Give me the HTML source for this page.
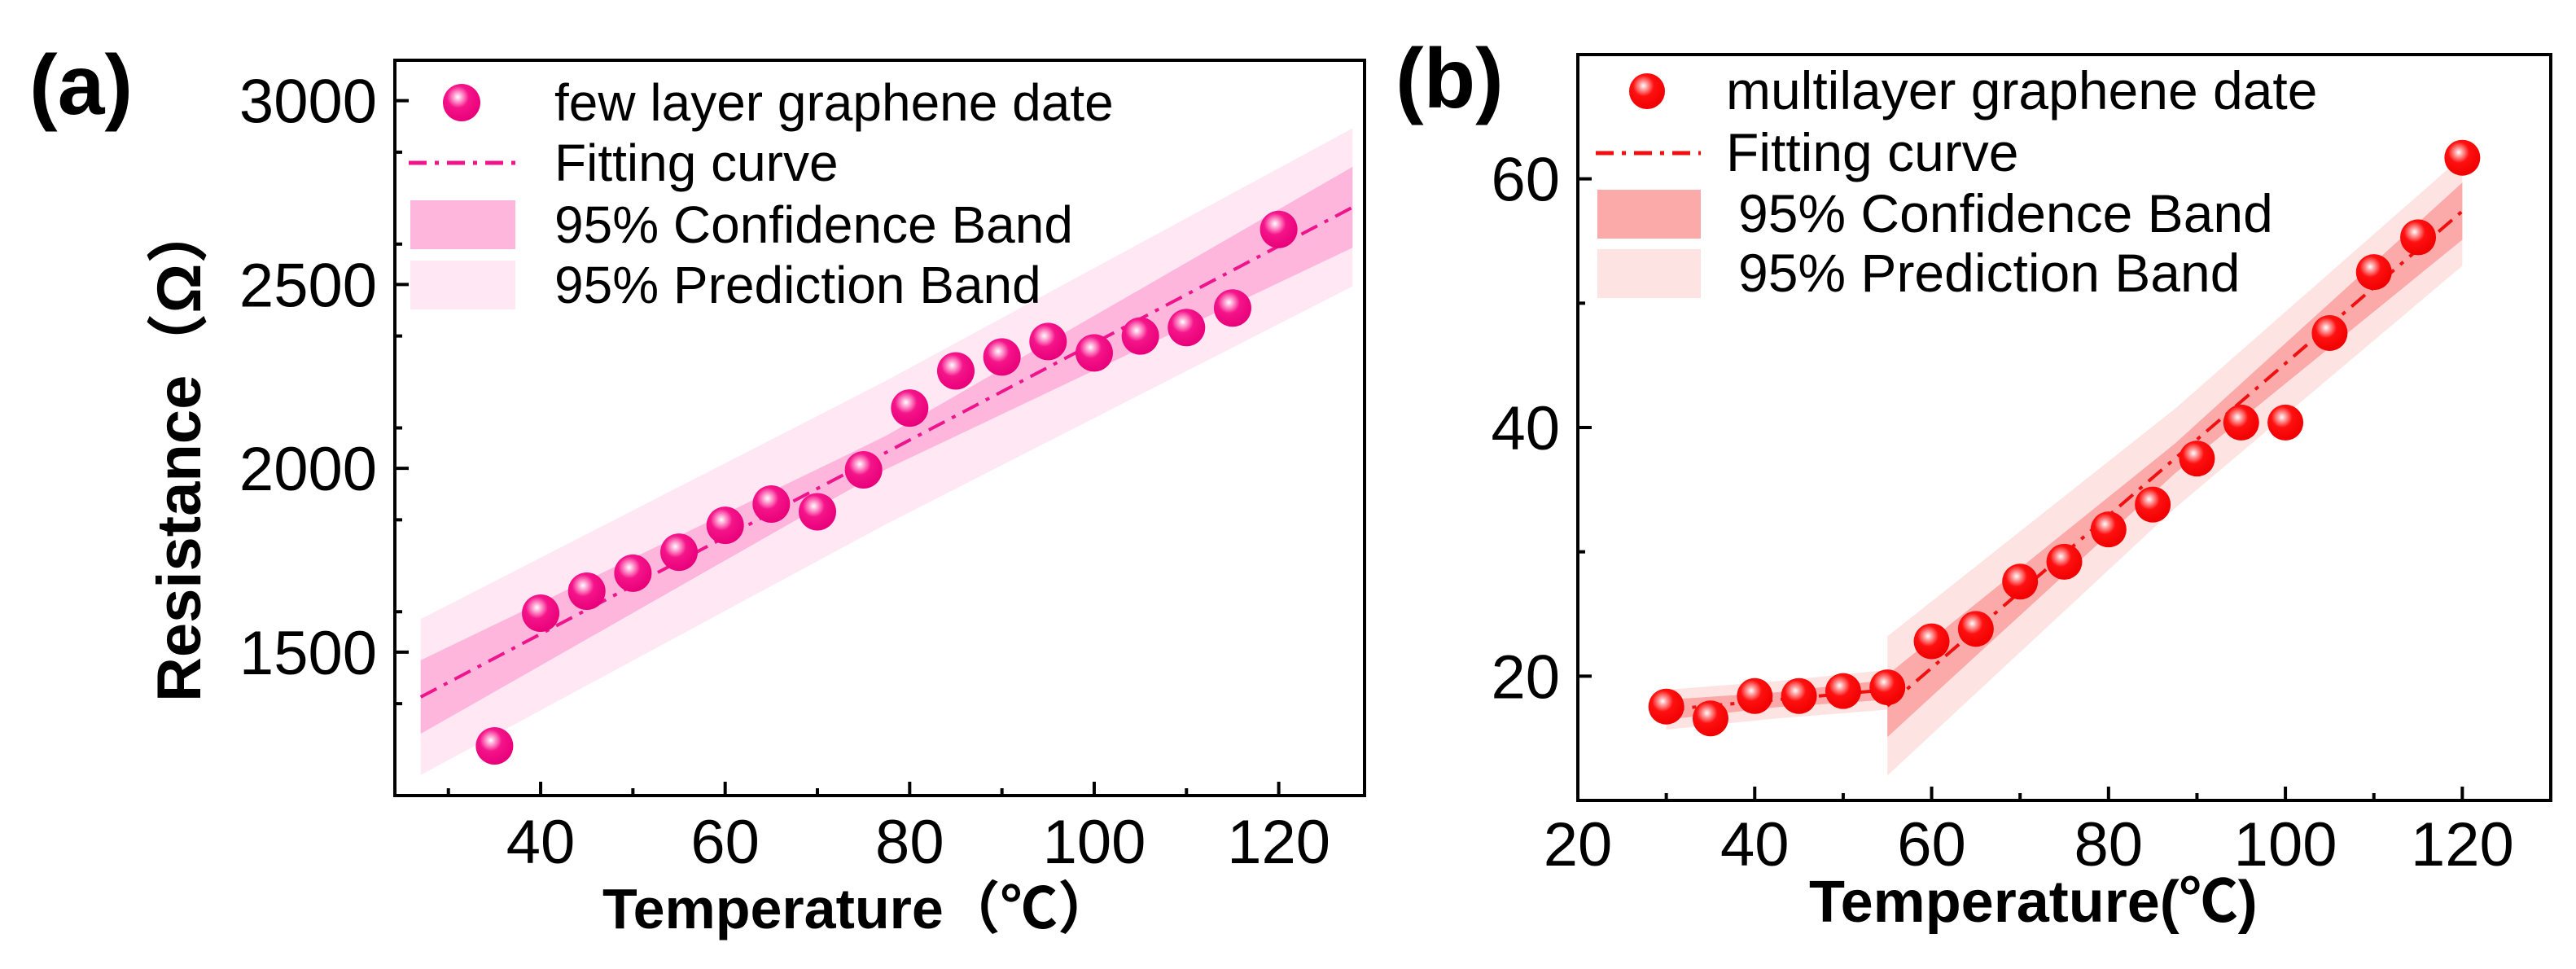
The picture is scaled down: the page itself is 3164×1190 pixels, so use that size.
<!DOCTYPE html>
<html><head><meta charset="utf-8"><style>
html,body{margin:0;padding:0;background:#fff;}
svg{display:block;font-family:"Liberation Sans","Noto Sans CJK SC",sans-serif;}
</style></head><body>
<svg id="fig" width="3164" height="1190" viewBox="0 0 3164 1190" xmlns="http://www.w3.org/2000/svg">
<defs>
<radialGradient id="gpink" cx="0.4" cy="0.35" r="0.65"><stop offset="0" stop-color="#ffffff"/><stop offset="0.18" stop-color="#ff9fd0"/><stop offset="0.45" stop-color="#f5148a"/><stop offset="1" stop-color="#e8007a"/></radialGradient>
<radialGradient id="gred" cx="0.4" cy="0.35" r="0.65"><stop offset="0" stop-color="#ffffff"/><stop offset="0.18" stop-color="#ff9a9a"/><stop offset="0.45" stop-color="#ff1010"/><stop offset="1" stop-color="#f00000"/></radialGradient>
</defs>
<g id="pa"></g>
<g id="pb"></g>
</svg>
<script>
// Panel (a) data
const tempsA = [35,40,45,50,55,60,65,70,75,80,85,90,95,100,105,110,115,120];
const resA = [1245,1606,1666,1715,1772,1845,1903,1882,1996,2164,2265,2303,2345,2314,2360,2383,2436,2650];
const fitXA = [27,128];
const fitYA = [1378,2710];
const bandXA = [27,77,128];
const confHalfA = [100,45,110];
const predHalfA = [212,195,215];
const yTicksA = [1500,2000,2500,3000];
const xTicksA = [40,60,80,100,120];
// Panel (b) data
const tempsB = [30,35,40,45,50,55,60,65,70,75,80,85,90,95,100,105,110,115,120];
const resB = [17.55,16.6,18.4,18.4,18.8,19.1,22.8,23.8,27.6,29.2,31.8,33.8,37.5,40.4,40.4,47.6,52.5,55.3,61.7];
const fit1XB = [30,55];
const fit1YB = [17.3,18.9];
const band1XB = [30,42.5,55];
const conf1HalfB = [0.8,0.6,0.8];
const pred1HalfB = [1.6,1.5,1.6];
const fit2XB = [55,120];
const fit2YB = [17.6,57.4];
const band2XB = [55,87.5,120];
const conf2HalfB = [2.5,1.2,2.3];
const pred2HalfB = [5.6,4.0,4.4];
const yTicksB = [20,40,60];
const xTicksB = [20,40,60,80,100,120];

const NS="http://www.w3.org/2000/svg";
function mk(parent,tag,attrs,text){const e=document.createElementNS(NS,tag);for(const k in attrs)e.setAttribute(k,attrs[k]);if(text!==undefined)e.textContent=text;parent.appendChild(e);return e;}
function scale(d0,d1,r0,r1){return v=>r0+(v-d0)/(d1-d0)*(r1-r0);}
function lerpArr(xs,vs,x){for(let i=0;i<xs.length-1;i++){if(x<=xs[i+1]){const t=(x-xs[i])/(xs[i+1]-xs[i]);return vs[i]+t*(vs[i+1]-vs[i]);}}return vs[vs.length-1];}
function band(g,X,Y,fx,fy,bx,half,color,name){
  const pts=[],ptsB=[];const n=20;
  for(let i=0;i<=n;i++){const x=fx[0]+(fx[1]-fx[0])*i/n;const c=fy[0]+(fy[1]-fy[0])*i/n;const h=lerpArr(bx,half,x);pts.push(X(x)+","+Y(c+h));ptsB.unshift(X(x)+","+Y(c-h));}
  const p=mk(g,"polygon",{points:pts.concat(ptsB).join(" "),fill:color});
  
  
}
function panel(g,o){
  const X=scale(o.xd[0],o.xd[1],o.box[0],o.box[2]);
  const Y=scale(o.yd[0],o.yd[1],o.box[3],o.box[1]);
  o.bands.forEach(b=>{band(g,X,Y,b.fx,b.fy,b.bx,b.pred,o.predC,'prediction-band');});
  o.bands.forEach(b=>{band(g,X,Y,b.fx,b.fy,b.bx,b.conf,o.confC,'confidence-band');});
  o.bands.forEach(b=>{const l=mk(g,"line",{x1:X(b.fx[0]),y1:Y(b.fy[0]),x2:X(b.fx[1]),y2:Y(b.fy[1]),stroke:o.lineC,"stroke-width":4,"stroke-dasharray":"22 10 5 10"});
    
    });
  o.xs.forEach((x,i)=>{const c=mk(g,"circle",{cx:X(x),cy:Y(o.ys[i]),r:o.r,fill:o.grad});
    
    });
  const [l,t,r,b]=o.box;
  const bx=mk(g,"rect",{x:l,y:t,width:r-l,height:b-t,fill:"none",stroke:"#000","stroke-width":4});
  
  
  o.yt.forEach(v=>{mk(g,"line",{x1:l,x2:l+17,y1:Y(v),y2:Y(v),stroke:"#000","stroke-width":4});
    const tx=mk(g,"text",{x:l-22,y:Y(v)+27,"font-size":76,"text-anchor":"end"},String(v));
    
    });
  for(let v=o.yd[0];v<=o.yd[1];v+=o.yminor){if(!o.yt.includes(v)&&Y(v)>t+5&&Y(v)<b-5)mk(g,"line",{x1:l,x2:l+9,y1:Y(v),y2:Y(v),stroke:"#000","stroke-width":4});}
  o.xt.forEach(v=>{mk(g,"line",{x1:X(v),x2:X(v),y1:b,y2:b-17,stroke:"#000","stroke-width":4});
    const tx=mk(g,"text",{x:X(v),y:o.xlabY,"font-size":76,"text-anchor":"middle"},String(v));
    
    });
  for(let v=o.xminor0;v<o.xd[1];v+=o.xminorStep){if(!o.xt.includes(v)&&X(v)>l+5)mk(g,"line",{x1:X(v),x2:X(v),y1:b,y2:b-9,stroke:"#000","stroke-width":4});}
  const L=o.leg;
  const m=mk(g,"circle",{cx:L.mx,cy:L.rows[0],r:o.r,fill:o.grad});
  const ll=mk(g,"line",{x1:L.lx0,x2:L.lx1,y1:L.rows[1],y2:L.rows[1],stroke:o.lineC,"stroke-width":5,"stroke-dasharray":"22 10 5 10"});
  const s1=mk(g,"rect",{x:L.lx0+2,y:L.rows[2]-30,width:L.lx1-L.lx0-2,height:60,fill:o.confC});
  const s2=mk(g,"rect",{x:L.lx0+2,y:L.rows[3]-30,width:L.lx1-L.lx0-2,height:60,fill:o.predC});
  L.texts.forEach((s,i)=>{const tx=mk(g,"text",{x:L.tx[i],y:L.rows[i]+22,"font-size":L.fs},s);
    
    });
}
const pa=document.getElementById("pa"),pb=document.getElementById("pb");
panel(pa,{xd:[24.2,129.3],yd:[1110,3110],box:[485,74,1676,977],xs:tempsA,ys:resA,r:23,grad:"url(#gpink)",
  bands:[{fx:fitXA,fy:fitYA,bx:bandXA,conf:confHalfA,pred:predHalfA}],confC:"#ffb6dc",predC:"#ffe7f3",lineC:"#f0148c",
  yt:yTicksA,yminor:250,xt:xTicksA,xminor0:30,xminorStep:10,xlabY:1060,
  leg:{fs:64,mx:567,lx0:502,lx1:633,rows:[126,200,276,350],tx:[681,681,681,681],texts:["few layer graphene date","Fitting curve","95% Confidence Band","95% Prediction Band"]}});
panel(pb,{xd:[20,130],yd:[10,70],box:[1938,67,3133,983],xs:tempsB,ys:resB,r:22,grad:"url(#gred)",
  bands:[{fx:fit1XB,fy:fit1YB,bx:band1XB,conf:conf1HalfB,pred:pred1HalfB},{fx:fit2XB,fy:fit2YB,bx:band2XB,conf:conf2HalfB,pred:pred2HalfB}],
  confC:"#fba9a9",predC:"#fee3e3",lineC:"#f01010",
  yt:yTicksB,yminor:10,xt:xTicksB,xminor0:30,xminorStep:10,xlabY:1063,
  leg:{fs:66,mx:2023,lx0:1960,lx1:2089,rows:[112,188,263,336],tx:[2120,2120,2135,2135],texts:["multilayer graphene date","Fitting curve","95% Confidence Band","95% Prediction Band"]}});
</script>
<script>
const fig=document.getElementById("fig");
function T(attrs,text,name){const e=document.createElementNS("http://www.w3.org/2000/svg","text");for(const k in attrs)e.setAttribute(k,attrs[k]);e.textContent=text;fig.appendChild(e);
  
  }
T({x:36,y:140,"font-size":104,"font-weight":"bold"},"(a)","panel-a-label");
T({x:1714,y:132,"font-size":104,"font-weight":"bold"},"(b)","panel-b-label");
T({x:740,y:1140,"font-size":70,"font-weight":"bold"},"Temperature（℃）","x-axis-title-a");
T({x:2222,y:1132,"font-size":72,"font-weight":"bold"},"Temperature(℃)","x-axis-title-b");
T({x:0,y:0,"font-size":76,"font-weight":"bold",transform:"translate(246,862) rotate(-90)"},"Resistance（Ω）","y-axis-title");
</script>
</body></html>
